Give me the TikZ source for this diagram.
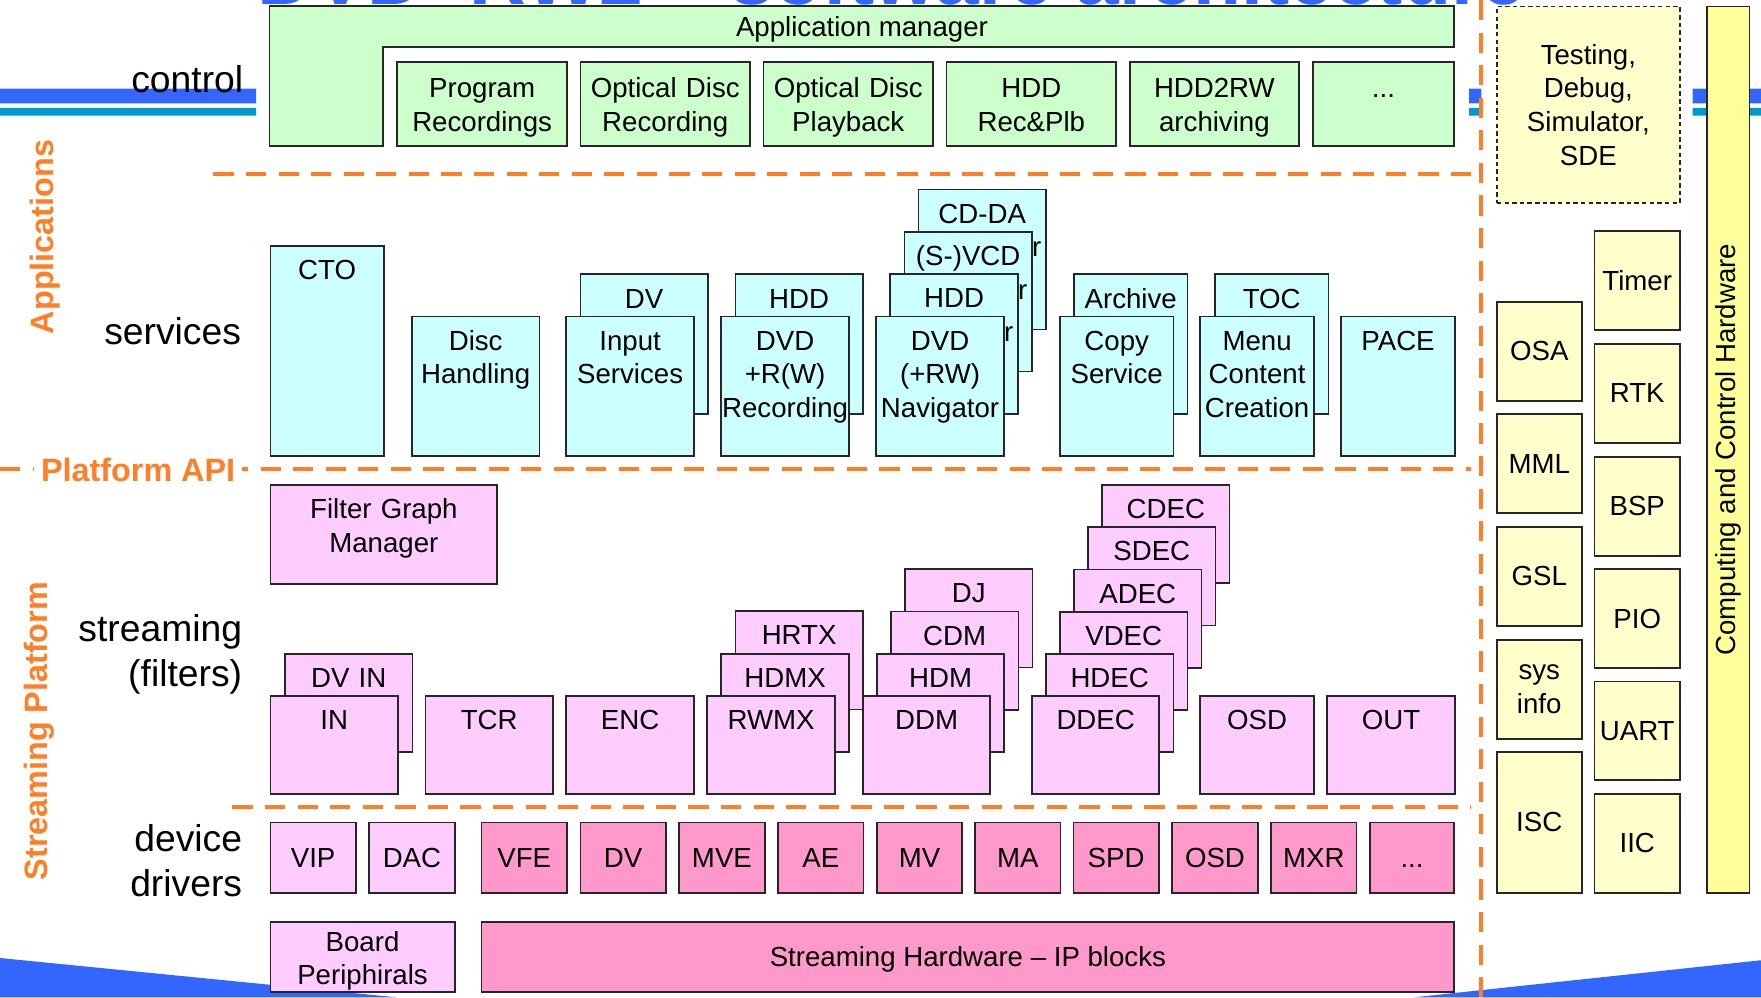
\documentclass[tikz,border=0pt]{standalone}
\usepackage{fontspec}
\setmainfont{Liberation Sans}
\usepackage{xcolor}
\usepackage{tikz}
\usetikzlibrary{positioning}
\definecolor{ctlgreen}{HTML}{CCFFCC}
\definecolor{svccyan}{HTML}{CCFFFF}
\definecolor{fltpink}{HTML}{FFCCFF}
\definecolor{drvpink}{HTML}{FF99CC}
\definecolor{osyellow}{HTML}{FFFFCC}
\definecolor{hwyellow}{HTML}{FFFF99}
\definecolor{layerorange}{HTML}{FF7F27}
\definecolor{slideblue}{HTML}{3366FF}
\definecolor{slideteal}{HTML}{0099CC}
\newcommand{\blkfont}{\fontsize{12.3pt}{15pt}\selectfont}
\newcommand{\rowlblfont}{\fontsize{16.6pt}{20pt}\selectfont}
\newcommand{\sidelblfont}{\fontsize{14.4pt}{17pt}\selectfont\bfseries}
\newcommand{\ttlfont}{\fontsize{35pt}{40pt}\selectfont\bfseries}
\hyphenpenalty=10000
\exhyphenpenalty=10000

\begin{document}
\begin{tikzpicture}[x=0.5pt, y=-0.5pt,
        every node/.style={font=\blkfont},
        blk/.style={draw=black!85, line width=0.8pt, inner sep=0pt, anchor=north west},
        topbox/.style={blk, align=center, text height=15pt},
        ctlbox/.style={topbox, fill=ctlgreen, text width=75.5pt, text height=15.9pt, text depth=21.6pt},
        svcbox/.style={topbox, fill=svccyan, text width=56.75pt, text depth=47.25pt},
        fltbox/.style={topbox, fill=fltpink, text width=56.75pt, text depth=28.75pt},
        drvbox/.style={blk, fill=drvpink, minimum width=38pt, minimum height=31.5pt, text height=8.8pt, text depth=0pt},
        osbox/.style={blk, fill=osyellow, align=center, minimum width=37.75pt, minimum height=44pt},
        rowlabel/.style={font=\rowlblfont, align=right, inner sep=0pt},
        sidelabel/.style={font=\sidelblfont, text=layerorange, inner sep=0pt},
        sepline/.style={draw=layerorange, line width=1.75pt, dash pattern=on 9pt off 5.5pt}
    ]
    \useasboundingbox (0,0) rectangle (1568,888);
    \clip (0,0) rectangle (1568,888);

    % slide decoration
    \fill[slideblue] (0,79) rectangle (228,92) (1308,79) rectangle (1319,92) (1507,79) rectangle (1568,92);
    \fill[slideteal] (0,96) rectangle (228,103) (1308,96) rectangle (1319,103) (1507,96) rectangle (1568,103);
    \fill[slideblue] (0,853) -- (353,888) -- (0,888) -- cycle;
    \fill[slideblue] (1568,855) -- (1259,888) -- (1568,888) -- cycle;
    \node[font=\ttlfont, text=slideblue, anchor=base, inner sep=0pt] (title) at (794,3.6) {DVD+RW2 -- software architecture};

    % layer borders
    \draw[sepline] (190,155) -- (1310,155);
    \draw[sepline] (0,418) -- (1310,418);
    \draw[sepline] (207,718.5) -- (1310,718.5);
    \draw[sepline] (1319,0) -- (1319,888);

    \node[sidelabel, rotate=90] (apps) at (40,211) {Applications};
    \node[sidelabel, fill=white, inner xsep=3pt] (api) at (123,418) {Platform API};
    \node[sidelabel, rotate=90] (platform) at (35,651) {Streaming Platform};

    \node[rowlabel, anchor=base east] (control) at (217,82.5) {control};
    \node[rowlabel, anchor=base east] (services) at (215,307) {services};
    \node[rowlabel, anchor=east] (streaming) at (216,583) {streaming\\(filters)};
    \node[rowlabel, anchor=east] (drivers) at (216,766) {device\\drivers};

    % control
    \filldraw[fill=ctlgreen, draw=black!85, line width=0.8pt] (240,130) -- (240,5) -- (1294.5,5) -- (1294.5,42) -- (341,42) -- (341,130) -- cycle;
    \node[text height=8.8pt, text depth=0pt] (appmgr) at (767.5,24) {Application manager};
    \foreach \i/\x/\txt in {1/353/{Program\\Recordings},2/516/{Optical Disc\\Recording},3/679/{Optical Disc\\Playback},4/842/{HDD\\Rec\&Plb},5/1005/{HDD2RW\\archiving}}
        \node[ctlbox] (ctl\i) at (\x,54.5) {\txt};
    \node[ctlbox, text width=63pt] (ctl6) at (1168,54.5) {...};

    \node[blk, fill=osyellow, dash pattern=on 2pt off 1.4pt, align=center, minimum width=81.5pt, minimum height=87.5pt] (testing) at (1332,5) {Testing,\\Debug,\\Simulator,\\SDE};

    % services
    \node[svcbox, text width=50.5pt, text depth=78.75pt] (cto) at (240,218) {CTO};
    \node[svcbox] (disc) at (366,281) {Disc\\Handling};
    \node[svcbox] (dv) at (516,243.5) {DV};
    \node[svcbox] (input) at (503.5,281) {Input\\Services};
    \node[svcbox] (hddrec) at (654,243.5) {HDD};
    \node[svcbox] (dvdrec) at (641.5,281) {DVD\\+R(W)\\Recording};
    \foreach \i/\txt [count=\k from 0] in {cdda/{CD-DA},svcd/{(S-)VCD},hdd/HDD}
        \node[svcbox] (nav\i) at (817-12.5*\k,168+37.5*\k) {\txt\\Navigator};
    \node[svcbox] (navdvd) at (779.5,281) {DVD\\(+RW)\\Navigator};
    \node[svcbox, text width=50.5pt] (archive) at (955.5,243.5) {Archive};
    \node[svcbox, text width=50.5pt] (copy) at (943,281) {Copy\\Service};
    \node[svcbox, text width=50.5pt] (toc) at (1081,243.5) {TOC};
    \node[svcbox, text width=50.5pt] (menu) at (1068,281) {Menu\\Content\\Creation};
    \node[svcbox, text width=50.5pt] (pace) at (1193.5,281) {PACE};

    % streaming filters
    \node[fltbox, text width=101pt, text depth=29pt] (fgm) at (240,431) {Filter Graph\\Manager};
    \node[fltbox] (dvin) at (253,581.5) {DV IN};
    \node[fltbox] (infilter) at (240,619) {IN};
    \node[fltbox] (tcr) at (378,619) {TCR};
    \node[fltbox] (enc) at (503.5,619) {ENC};
    \foreach \n [count=\k from 0] in {HRTX,HDMX,RWMX}
        \node[fltbox] (\n) at (654-12.5*\k,543.5+37.75*\k) {\n};
    \foreach \n [count=\k from 0] in {DJ,CDM,HDM,DDM}
        \node[fltbox] (\n) at (805-12.5*\k,506+37.67*\k) {\n};
    \foreach \n [count=\k from 0] in {CDEC,SDEC,ADEC,VDEC,HDEC,DDEC}
        \node[fltbox] (\n) at (980.5-12.5*\k,431+37.6*\k) {\n};
    \node[fltbox, text width=50.5pt] (osdfilter) at (1068,619) {OSD};
    \node[fltbox] (out) at (1181,619) {OUT};

    % device drivers
    \foreach \i/\x/\txt in {1/240/VIP,2/328/DAC}
        \node[drvbox, fill=fltpink] (drv\i) at (\x,731.5) {\txt};
    \foreach \i/\x/\txt in {3/428/VFE,4/516/DV,5/604/MVE,6/692/AE,7/780/MV,8/867.5/MA,9/955/SPD,10/1043/OSD,11/1131/MXR}
        \node[drvbox] (drv\i) at (\x,731.5) {\txt};
    \node[drvbox, minimum width=37.5pt] (drv12) at (1219,731.5) {...};
    \node[blk, fill=fltpink, text width=82pt, align=center, text height=13pt, text depth=18.25pt] (board) at (240,820) {Board\\Periphirals};
    \node[blk, fill=drvpink, minimum width=433pt, minimum height=31.25pt, text height=8.8pt, text depth=0pt] (iphw) at (428,820) {Streaming Hardware -- IP blocks};

    % computing side
    \foreach \i/\y/\txt in {1/268/OSA,2/368/MML,3/468.5/GSL,4/569/{sys\\info}}
        \node[osbox] (osl\i) at (1332,\y) {\txt};
    \node[osbox, minimum height=62.5pt] (isc) at (1332,669) {ISC};
    \foreach \i/\y/\txt in {1/205/Timer,2/305.5/RTK,3/406/BSP,4/506/PIO,5/606/UART}
        \node[osbox, minimum width=38pt] (osr\i) at (1419,\y) {\txt};
    \node[osbox, minimum width=38pt] (iic) at (1419,706) {IIC};
    \node[blk, fill=hwyellow, minimum width=19pt, minimum height=394.5pt] (hw) at (1519,5) {};
    \node[rotate=90] (hwlabel) at (hw.center) {Computing and Control Hardware};
\end{tikzpicture}
\end{document}
